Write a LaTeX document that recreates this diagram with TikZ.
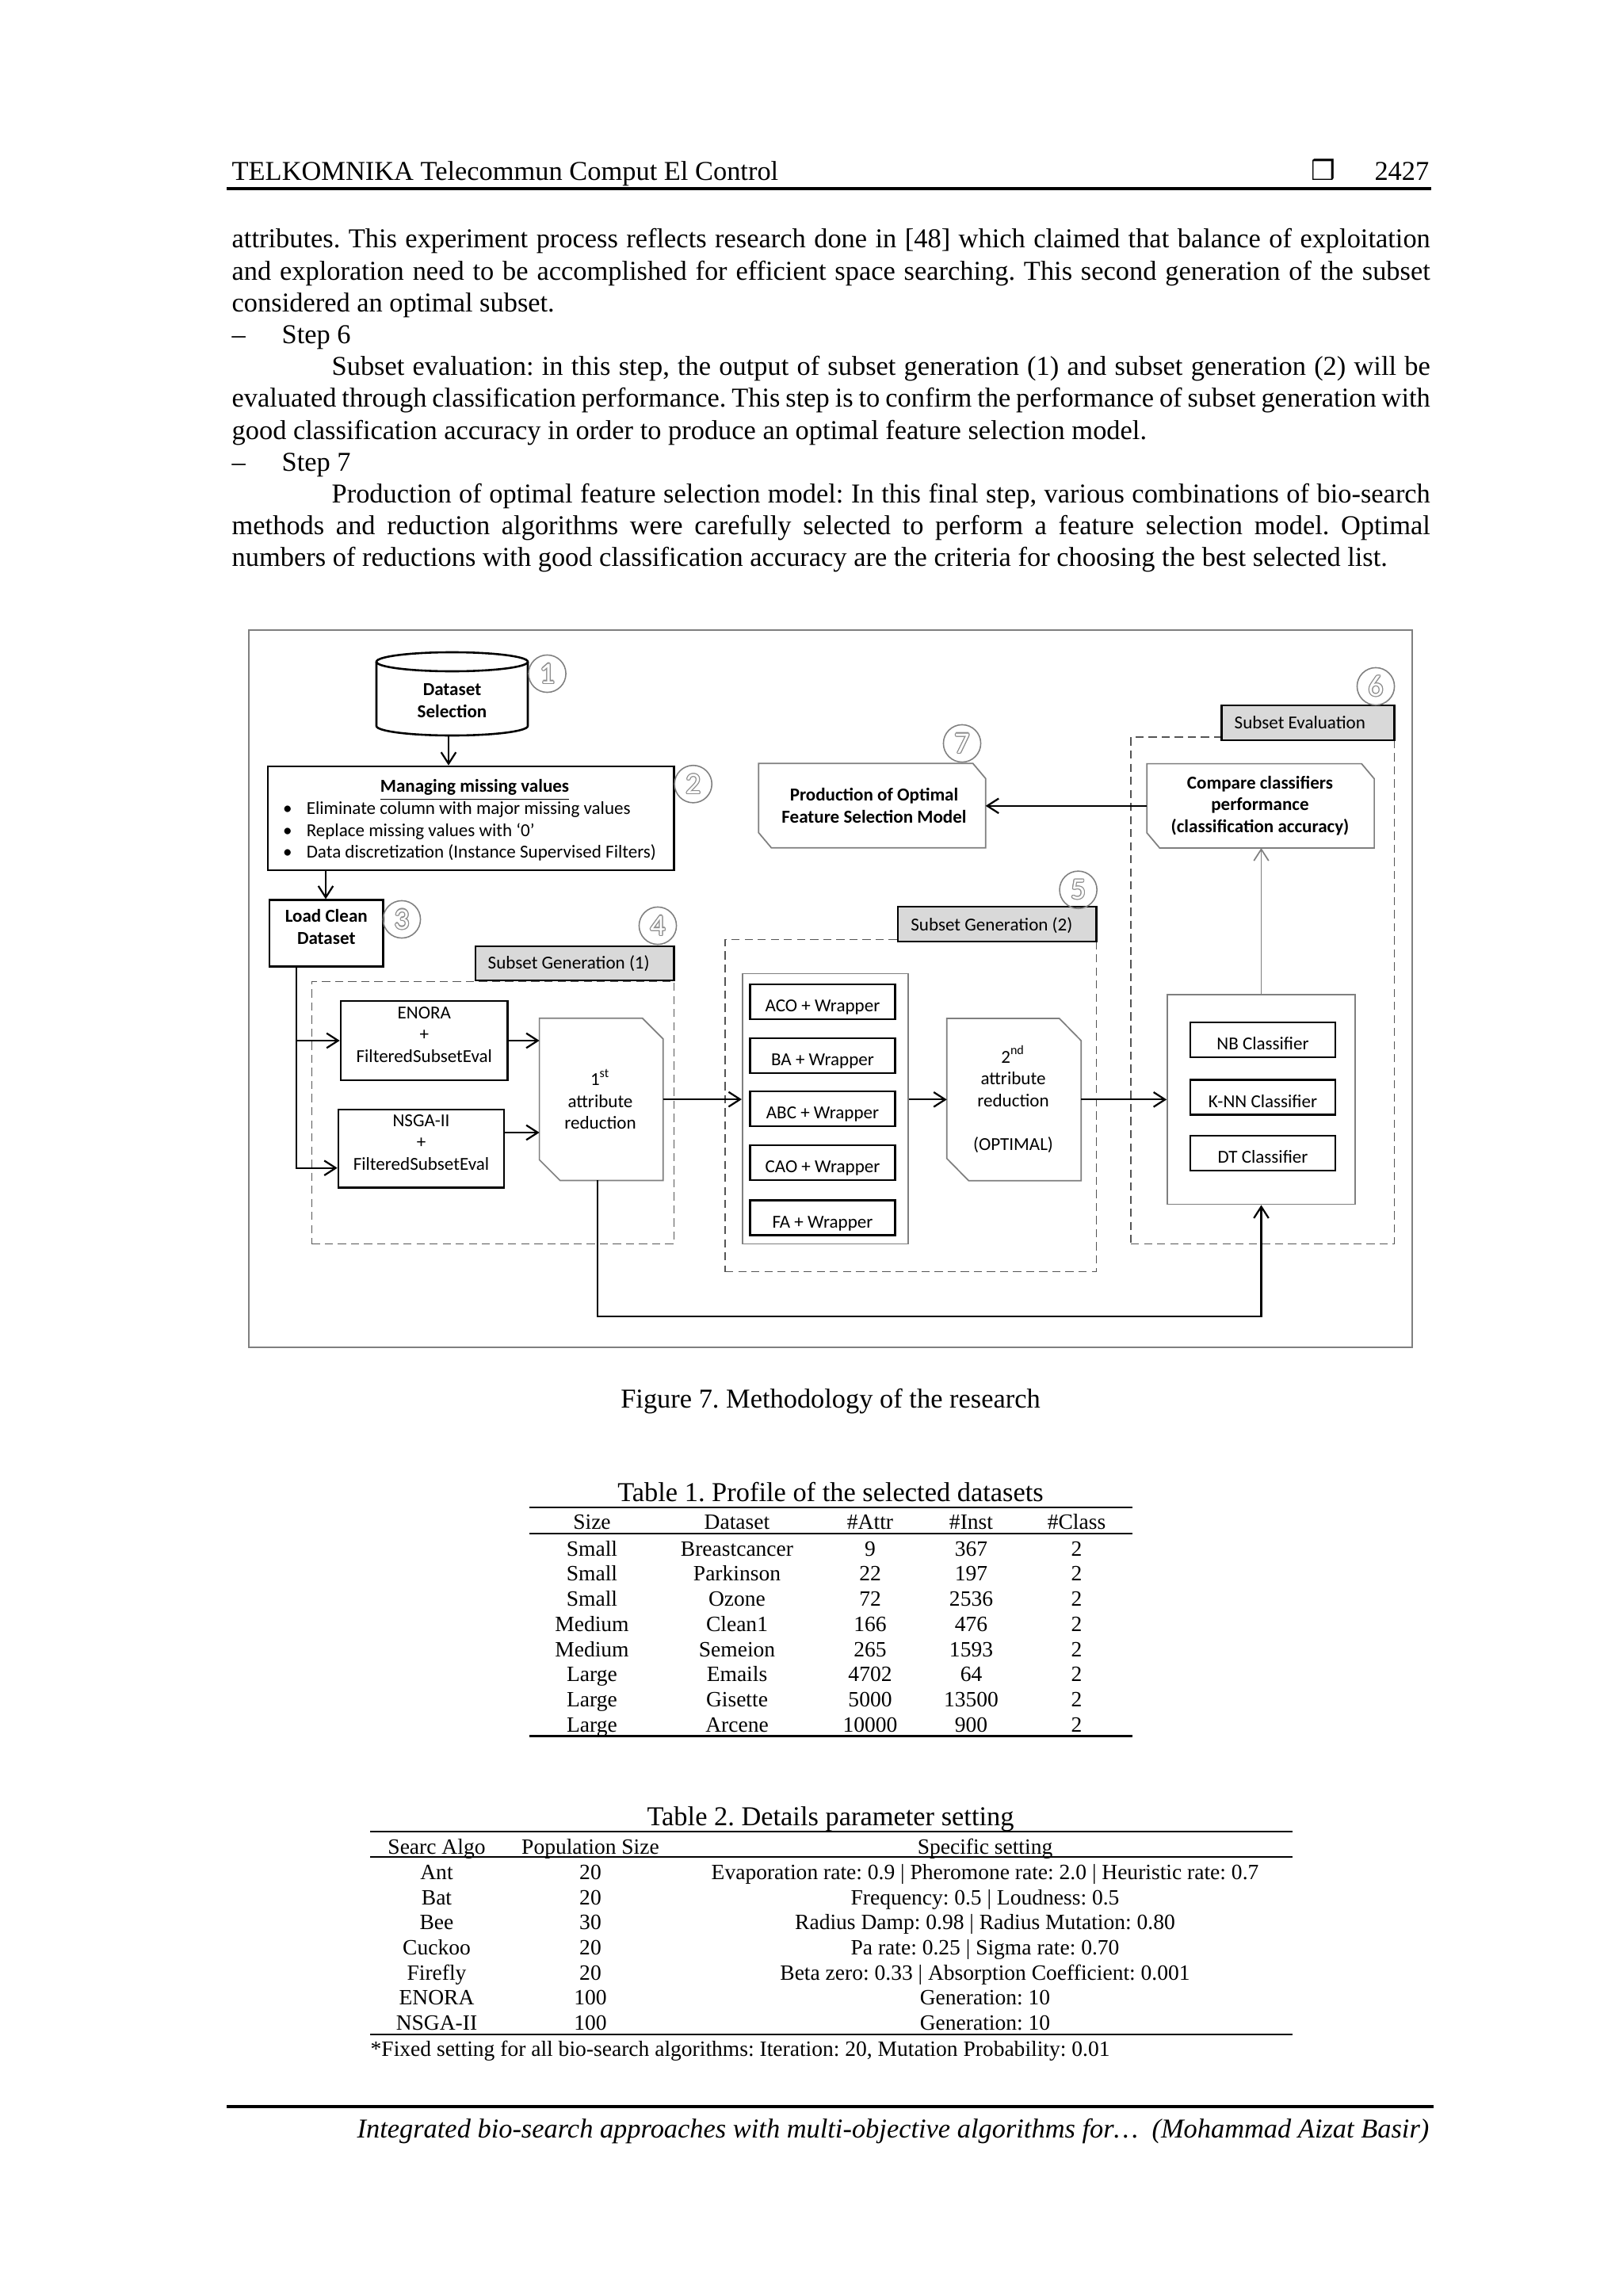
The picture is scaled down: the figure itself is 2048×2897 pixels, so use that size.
\documentclass[tikz,border=0pt]{standalone}
\usepackage{fontspec}
\setmainfont{Liberation Serif}
\newfontfamily\figfont{Carlito}
\newfontfamily\symfont{DejaVu Sans}
\usetikzlibrary{arrows.meta,fit,calc}
\definecolor{tabgray}{HTML}{D9D9D9}
\definecolor{bgray}{HTML}{7F7F7F}
\definecolor{dgray}{HTML}{555555}
\definecolor{ocol}{HTML}{8C8C8C}
\frenchspacing
\newcommand\odig[1]{\leavevmode\hbox{%
 \rlap{\color{ocol}\kern-0.35pt\hbox{#1}}%
 \rlap{\color{ocol}\kern0.35pt\hbox{#1}}%
 \rlap{\color{ocol}\raise0.35pt\hbox{#1}}%
 \rlap{\color{ocol}\lower0.35pt\hbox{#1}}%
 \rlap{\color{ocol}\kern0.25pt\raise0.25pt\hbox{#1}}%
 \rlap{\color{ocol}\kern-0.25pt\raise0.25pt\hbox{#1}}%
 \rlap{\color{ocol}\kern0.25pt\lower0.25pt\hbox{#1}}%
 \rlap{\color{ocol}\kern-0.25pt\lower0.25pt\hbox{#1}}%
 \color{white}#1}}
\newcommand\chamf[3]{\draw[draw=bgray, line width=0.5pt] (#1.north west) -- ($(#1.north east)+(-#2,0)$) -- ($(#1.north east)+(0,#3)$) -- (#1.south east) -- ($(#1.south west)+(#2,0)$) -- ($(#1.south west)+(0,-#3)$) -- cycle;}
\begin{document}
\begin{tikzpicture}[x=0.2906pt,y=-0.2906pt,
 ft/.style={font=\figfont\fontsize{6.7}{8.05}\selectfont, inner sep=0pt, align=center},
 ftb/.style={ft, font=\figfont\bfseries\fontsize{6.7}{8.05}\selectfont},
 blkbox/.style={draw=black, line width=0.75pt, inner sep=0pt, ft},
 grybox/.style={draw=bgray, line width=0.5pt, inner sep=0pt},
 dashbox/.style={draw=dgray, line width=0.45pt, dash pattern=on 3pt off 1.8pt, inner sep=0pt},
 tabbox/.style={draw=black, fill=tabgray, line width=0.85pt, inner sep=0pt},
 numc/.style={circle, draw=bgray, line width=0.45pt, minimum size=13.7pt, inner sep=0pt, font=\figfont\fontsize{11}{11}\selectfont},
 ln/.style={line width=0.65pt},
 arr/.style={ln, -{Straight Barb[length=4.2pt,width=5.4pt]}},
 garr/.style={draw=bgray, line width=0.5pt, -{Straight Barb[length=4.2pt,width=5.4pt]}},
 body/.style={font=\fontsize{10}{11.6}\selectfont, inner sep=0pt, anchor=mid west},
 tabt/.style={font=\fontsize{8}{9.2}\selectfont, inner sep=0pt, anchor=mid},
 rulel/.style={line width=0.6pt}
]
\path[use as bounding box, fill=white] (0,0) rectangle (2048,2897);

% ---------- header ----------
\node[body] (hdl) at (292,220) {TELKOMNIKA Telecommun Comput El Control};
\node[body, anchor=mid] (hbox) at (1670,220) {{\symfont ❒}};
\node[body, anchor=mid east] (hpg) at (1804,220) {2427};
\coordinate (hr1) at (286,238); \coordinate (hr2) at (1806,238);
\draw[line width=0.9pt] (hr1) -- (hr2);

% ---------- body text ----------
\node[body] (l1) at (292,305) {\makebox[439.4pt][s]{attributes. This experiment process reflects research done in [48] which claimed that balance of exploitation}};
\node[body] (l2) at (292,345.2) {\makebox[439.4pt][s]{and exploration need to be accomplished for efficient space searching. This second generation of the subset}};
\node[body] (l3) at (292,385.4) {considered an optimal subset.};
\node[body] (l4a) at (292,425.6) {–};
\node[body] (l4b) at (355,425.6) {Step 6};
\node[body] (l5) at (418,465.8) {\makebox[402.8pt][s]{Subset evaluation: in this step, the output of subset generation (1) and subset generation (2) will be}};
\node[body] (l6) at (292,506) {\makebox[439.4pt][s]{evaluated through classification performance. This step is to confirm the performance of subset generation with}};
\node[body] (l7) at (292,546.2) {good classification accuracy in order to produce an optimal feature selection model.};
\node[body] (l8a) at (292,586.4) {–};
\node[body] (l8b) at (355,586.4) {Step 7};
\node[body] (l9) at (418,626.6) {\makebox[402.8pt][s]{Production of optimal feature selection model: In this final step, various combinations of bio-search}};
\node[body] (l10) at (292,666.8) {\makebox[439.4pt][s]{methods and reduction algorithms were carefully selected to perform a feature selection model. Optimal}};
\node[body] (l11) at (292,707) {numbers of reductions with good classification accuracy are the criteria for choosing the best selected list.};

% ---------- figure ----------
\node[draw=bgray, line width=0.6pt, inner sep=0pt, fit={(314,795) (1782,1700)}] (fig) {};

% dashed groups and tabs
\node[dashbox, fit={(393.4,1238.4) (850.5,1569.6)}] (sg1) {};
\node[dashbox, fit={(915,1185.6) (1383.7,1604.5)}] (sg2) {};
\node[dashbox, fit={(1427,930) (1759.4,1569.6)}] (se) {};
\node[tabbox, fit={(600,1194) (850.5,1237)}] (t1) {};
\node[ft, anchor=mid west] (t1t) at (615,1215) {Subset Generation (1)};
\node[tabbox, fit={(1133,1144) (1383.7,1188)}] (t2) {};
\node[ft, anchor=mid west] (t2t) at (1148.7,1167) {Subset Generation (2)};
\node[tabbox, fit={(1541.4,890) (1759.4,934)}] (t3) {};
\node[ft, anchor=mid west] (t3t) at (1557,912) {Subset Evaluation};

% step 1: dataset selection cylinder
\draw[line width=0.75pt] (475,835) -- (475,916) arc[start angle=180, end angle=360, x radius=27.75pt, y radius=3.49pt] -- (666,835);
\draw[line width=0.75pt] (570.5,835) ellipse [x radius=27.75pt, y radius=3.49pt];
\node[ftb] (ds) at (570.5,884) {Dataset\\Selection};
\coordinate (dsb) at (566,928);

% step 2
\node[blkbox, fit={(338,967) (850.5,1098)}] (mm) {};
\node[ftb, anchor=mid] (mmt) at (599,992) {\underline{Managing missing values}};
\node[ft, anchor=mid west] (mmb1) at (356.5,1020) {\makebox[8.6pt][l]{\textbullet}Eliminate column with major missing values};
\node[ft, anchor=mid west] (mmb2) at (356.5,1047.5) {\makebox[8.6pt][l]{\textbullet}Replace missing values with ‘0’};
\node[ft, anchor=mid west] (mmb3) at (356.5,1075) {\makebox[8.6pt][l]{\textbullet}Data discretization (Instance Supervised Filters)};
\draw[arr] (dsb) -- (dsb |- mm.north);

% step 3
\node[blkbox, ftb, fit={(340,1135.7) (483.5,1219.3)}] (lc) {Load Clean\\Dataset};
\coordinate (c411) at (411,0);
\draw[arr] (mm.south -| c411) -- (lc.north -| c411);

% step 4
\node[blkbox, fit={(430,1263) (640.6,1363)}] (en) {};
\node[ft] (ent) at (535.3,1305.5) {ENORA\\+\\FilteredSubsetEval};
\node[blkbox, fit={(427,1400) (636,1498.3)}] (ns) {};
\node[ft] (nst) at (531.5,1441.5) {NSGA-II\\+\\FilteredSubsetEval};
\node[inner sep=0pt, fit={(681.3,1285.5) (836,1488.7)}] (r1) {};
\chamf{r1}{26}{26}
\node[ft] (r1t) at (757.5,1387) {1\textsuperscript{st}\\attribute\\reduction};
\coordinate (c374) at (374,0);
\coordinate (yns) at (0,1473.7);
\coordinate (yns2) at (0,1429);
\draw[arr] (lc.south -| c374) |- (ns.west |- yns);
\draw[arr] (c374 |- en.west) -- (en.west);
\draw[arr] (en.east) -- (en.east -| r1.west);
\draw[arr] (ns.east |- yns2) -- (r1.west |- yns2);

% step 5
\node[grybox, fit={(936.8,1228.4) (1146,1569.6)}] (ib2) {};
\foreach \c/\t [count=\i] in {1264/ACO + Wrapper, 1332/BA + Wrapper, 1399/ABC + Wrapper, 1467/CAO + Wrapper, 1536.5/FA + Wrapper}{
 \node[blkbox, fit={(946.5,\c-22) (1129.4,\c+22)}] (w\i) {};
 \node[ft, anchor=mid] (w\i t) at (1038,\c+5) {\t};
}
\node[inner sep=0pt, fit={(1195.4,1285.7) (1363.5,1489)}] (r2) {};
\chamf{r2}{27.5}{28}
\node[ft] (r2t) at (1278.5,1387.3) {2\textsuperscript{nd}\\attribute\\reduction\\[8.05pt](OPTIMAL)};
\draw[arr] (r1.east) -- (r1.east -| ib2.west);
\draw[arr] (ib2.east |- r2.west) -- (r2.west);

% step 6
\node[grybox, fit={(1473,1255) (1710,1519.6)}] (cb) {};
\foreach \c/\t [count=\i] in {1312/NB Classifier, 1384.5/K-NN Classifier, 1455/DT Classifier}{
 \node[blkbox, fit={(1502,\c-22) (1685,\c+22)}] (k\i) {};
 \node[ft, anchor=mid] (k\i t) at (1593.5,\c+5) {\t};
}
\node[inner sep=0pt, fit={(1448,964.3) (1733.4,1069.3)}] (cp) {};
\chamf{cp}{16}{19}
\node[ftb] (cpt) at (1590,1016.5) {Compare classifiers\\performance\\(classification accuracy)};
\draw[arr] (r2.east) -- (r2.east -| cb.west);
\draw[garr] (cb.north) -- (cb.north |- cp.south);

% step 7
\node[inner sep=0pt, fit={(958,964) (1243,1069)}] (pr) {};
\chamf{pr}{16}{19}
\node[ftb] (prt) at (1103,1016.5) {Production of Optimal\\Feature Selection Model};
\draw[arr] (cp.west) -- (cp.west -| pr.east);

% feedback
\coordinate (c754) at (754,0);
\coordinate (yfb) at (0,1661);
\draw[arr] (r1.south -| c754) -- (c754 |- yfb) -| (cb.south);

% numbered circles
\node[numc] (n1) at (690.5,850) {\odig{1}};
\node[numc] (n2) at (874.7,989.3) {\odig{2}};
\node[numc] (n3) at (507,1160) {\odig{3}};
\node[numc] (n4) at (830,1168) {\odig{4}};
\node[numc] (n5) at (1360.6,1122.7) {\odig{5}};
\node[numc] (n6) at (1736,866) {\odig{6}};
\node[numc] (n7) at (1214,938) {\odig{7}};

% caption
\node[body, anchor=mid] (cap) at (1048,1769) {Figure 7. Methodology of the research};

% ---------- table 1 ----------
\node[body, anchor=mid] (tb1) at (1048,1887) {Table 1. Profile of the selected datasets};
\coordinate (ta1) at (668,1902); \coordinate (ta2) at (1428.5,1902);
\draw[rulel] (ta1) -- (ta2);
\draw[rulel] (ta1 |- 0,1935) -- (ta2 |- 0,1935);
\draw[rulel] (ta1 |- 0,2190.5) -- (ta2 |- 0,2190.5);
\node[tabt] (h1a) at (747,1922) {Size};
\node[tabt] (h1b) at (930,1922) {Dataset};
\node[tabt] (h1c) at (1098,1922) {\#Attr};
\node[tabt] (h1d) at (1225.5,1922) {\#Inst};
\node[tabt] (h1e) at (1358.5,1922) {\#Class};
\foreach \s/\d/\a/\n [count=\i] in {Small/Breastcancer/9/367, Small/Parkinson/22/197, Small/Ozone/72/2536, Medium/Clean1/166/476, Medium/Semeion/265/1593, Large/Emails/4702/64, Large/Gisette/5000/13500, Large/Arcene/10000/900}{
 \pgfmathsetmacro\yy{1955.3+31.7*(\i-1)}
 \node[tabt] (ra\i) at (747,\yy) {\s};
 \node[tabt] (rb\i) at (930,\yy) {\d};
 \node[tabt] (rc\i) at (1098,\yy) {\a};
 \node[tabt] (rd\i) at (1225.5,\yy) {\n};
 \node[tabt] (re\i) at (1358.5,\yy) {2};
}

% ---------- table 2 ----------
\node[body, anchor=mid] (tb2) at (1048,2295.5) {Table 2. Details parameter setting};
\coordinate (tc1) at (467,2311); \coordinate (tc2) at (1631,2311);
\draw[rulel] (tc1) -- (tc2);
\draw[rulel] (tc1 |- 0,2343.3) -- (tc2 |- 0,2343.3);
\draw[rulel] (tc1 |- 0,2566.7) -- (tc2 |- 0,2566.7);
\node[tabt] (h2a) at (551,2331.5) {Searc Algo};
\node[tabt] (h2b) at (745,2331.5) {Population Size};
\node[tabt] (h2c) at (1243,2331.5) {Specific setting};
\foreach \s/\p/\t [count=\i] in {Ant/20/Evaporation rate: 0.9 | Pheromone rate: 2.0 | Heuristic rate: 0.7, Bat/20/Frequency: 0.5 | Loudness: 0.5, Bee/30/Radius Damp: 0.98 | Radius Mutation: 0.80, Cuckoo/20/Pa rate: 0.25 | Sigma rate: 0.70, Firefly/20/Beta zero: 0.33 | Absorption Coefficient: 0.001, ENORA/100/Generation: 10, NSGA-II/100/Generation: 10}{
 \pgfmathsetmacro\yy{2363.7+31.6*(\i-1)}
 \node[tabt] (sa\i) at (551,\yy) {\s};
 \node[tabt] (sb\i) at (745,\yy) {\p};
 \node[tabt] (sc\i) at (1243,\yy) {\t};
}
\node[tabt, anchor=mid west] (fn) at (467,2587) {*Fixed setting for all bio-search algorithms: Iteration: 20, Mutation Probability: 0.01};

% ---------- footer ----------
\coordinate (fr1) at (286,2658); \coordinate (fr2) at (1809,2658);
\draw[line width=0.9pt] (fr1) -- (fr2);
\node[body, anchor=mid east] (ftr) at (1804,2690) {\itshape Integrated bio-search approaches with multi-objective algorithms for…\ \ (Mohammad Aizat Basir)};
\end{tikzpicture}
\end{document}
